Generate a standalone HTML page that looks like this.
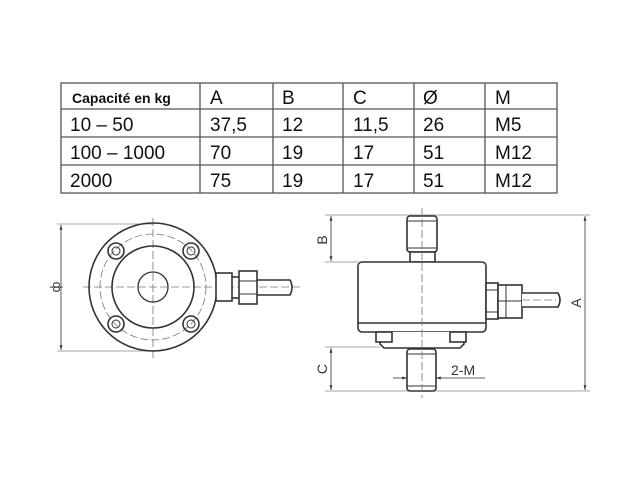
<!DOCTYPE html>
<html><head><meta charset="utf-8"><style>
html,body{margin:0;padding:0;background:#fff;width:640px;height:480px;overflow:hidden}
svg{display:block}
</style></head><body>
<svg width="640" height="480" viewBox="0 0 640 480" xmlns="http://www.w3.org/2000/svg" font-family="Liberation Sans, Arial, sans-serif">
<defs>
<marker id="ar" viewBox="0 0 10 10" refX="10" refY="5" markerWidth="6" markerHeight="6" orient="auto-start-reverse"><path d="M0,2 L10,5 L0,8 z" fill="#333"/></marker>
</defs>
<!-- table -->
<g stroke="#555" stroke-width="1.3" fill="none">
<rect x="61" y="83" width="496" height="110"/>
<line x1="61" y1="109" x2="557" y2="109"/>
<line x1="61" y1="137" x2="557" y2="137"/>
<line x1="61" y1="165" x2="557" y2="165"/>
<line x1="200" y1="83" x2="200" y2="193"/>
<line x1="273" y1="83" x2="273" y2="193"/>
<line x1="343" y1="83" x2="343" y2="193"/>
<line x1="414" y1="83" x2="414" y2="193"/>
<line x1="485" y1="83" x2="485" y2="193"/>
</g>
<g fill="#111" font-size="19">
<text x="72" y="103" font-size="14" font-weight="bold">Capacité en kg</text>
<text x="210" y="104">A</text><text x="282" y="104">B</text><text x="353" y="104">C</text><text x="423" y="104">Ø</text><text x="495" y="104">M</text>
<text x="70" y="131">10 – 50</text><text x="210" y="131">37,5</text><text x="282" y="131">12</text><text x="353" y="131">11,5</text><text x="423" y="131">26</text><text x="495" y="131">M5</text>
<text x="70" y="159">100 – 1000</text><text x="210" y="159">70</text><text x="282" y="159">19</text><text x="353" y="159">17</text><text x="423" y="159">51</text><text x="495" y="159">M12</text>
<text x="70" y="187">2000</text><text x="210" y="187">75</text><text x="282" y="187">19</text><text x="353" y="187">17</text><text x="423" y="187">51</text><text x="495" y="187">M12</text>
</g>
<!-- left view -->
<g stroke="#333" fill="none">
<line x1="57" y1="224" x2="153" y2="224" stroke="#888" stroke-width="0.8"/>
<line x1="57" y1="351" x2="153" y2="351" stroke="#888" stroke-width="0.8"/>
<line x1="61" y1="225" x2="61" y2="350" stroke-width="0.8" marker-start="url(#ar)" marker-end="url(#ar)"/>
<g stroke="#777" stroke-width="0.8" stroke-dasharray="8,3">
<line x1="153" y1="218" x2="153" y2="358"/>
<line x1="83" y1="287" x2="300" y2="287"/>
<circle cx="153" cy="287" r="53"/>
</g>
<g stroke-width="1.6">
<circle cx="153" cy="287" r="64"/>
<circle cx="153" cy="287" r="41"/>
<circle cx="153" cy="287" r="15" stroke-width="1.3"/>
<circle cx="116" cy="251" r="8"/><circle cx="116" cy="251" r="4" stroke-width="1"/>
<circle cx="191" cy="251" r="8"/><circle cx="191" cy="251" r="4" stroke-width="1"/>
<circle cx="116" cy="324" r="8"/><circle cx="116" cy="324" r="4" stroke-width="1"/>
<circle cx="191" cy="324" r="8"/><circle cx="191" cy="324" r="4" stroke-width="1"/>
<rect x="216" y="273" width="16" height="28" fill="#fff"/>
<rect x="239" y="271" width="18" height="33" fill="#fff"/>
<line x1="232" y1="277" x2="239" y2="277"/><line x1="232" y1="298" x2="239" y2="298"/>
<line x1="239" y1="281" x2="257" y2="281" stroke-width="1"/><line x1="239" y1="294" x2="257" y2="294" stroke-width="1"/>
<path d="M257,280 H290 Q294,287 290,295 H257"/>
</g>
</g>
<text x="56" y="291" font-size="13" fill="#333" transform="rotate(-90 56 287)" text-anchor="middle">ф</text>
<!-- right view -->
<g stroke="#333" fill="none">
<g stroke="#888" stroke-width="0.8">
<line x1="325" y1="215" x2="590" y2="215"/>
<line x1="325" y1="262" x2="358" y2="262"/>
<line x1="325" y1="347" x2="380" y2="347"/>
<line x1="325" y1="391" x2="590" y2="391"/>
</g>
<g stroke-width="0.8">
<line x1="331" y1="216" x2="331" y2="261" marker-start="url(#ar)" marker-end="url(#ar)"/>
<line x1="331" y1="348" x2="331" y2="390" marker-start="url(#ar)" marker-end="url(#ar)"/>
<line x1="585" y1="216" x2="585" y2="390" marker-start="url(#ar)" marker-end="url(#ar)"/>
<line x1="393" y1="378" x2="407" y2="378" marker-end="url(#ar)"/>
<line x1="485" y1="378" x2="436" y2="378" marker-end="url(#ar)"/>
</g>
<g stroke-width="1.6" fill="#fff">
<rect x="407" y="216" width="30" height="36" rx="3"/>
<line x1="407" y1="221" x2="437" y2="221" stroke-width="1"/><line x1="407" y1="248" x2="437" y2="248" stroke-width="1"/>
<rect x="410" y="252" width="25" height="10"/>
<rect x="358" y="262" width="128" height="70" rx="4"/>
<line x1="358" y1="323" x2="486" y2="323"/>
<path d="M380,332 V344 L384,348 H460 L464,344 V332"/>
<rect x="376" y="332" width="16" height="10"/>
<rect x="450" y="332" width="16" height="10"/>
<rect x="407" y="349" width="29" height="42" rx="3"/>
<line x1="407" y1="354" x2="436" y2="354" stroke-width="1"/><line x1="407" y1="386" x2="436" y2="386" stroke-width="1"/>
<rect x="486" y="283" width="12" height="36"/>
<line x1="486" y1="290" x2="498" y2="290" stroke-width="1"/><line x1="486" y1="312" x2="498" y2="312" stroke-width="1"/>
<rect x="498" y="285" width="24" height="33"/>
<line x1="506" y1="285" x2="506" y2="318" stroke-width="1"/>
<line x1="498" y1="301" x2="522" y2="301" stroke-width="1"/>
<path d="M522,293 H558 Q562,300 558,307 H522"/>
</g>
<g stroke="#777" stroke-width="0.8" stroke-dasharray="8,3">
<line x1="422" y1="208" x2="422" y2="398"/>
<line x1="522" y1="300" x2="556" y2="300"/>
</g>
</g>
<g fill="#333" font-size="14">
<text x="0" y="0" transform="translate(327,240) rotate(-90)" text-anchor="middle">B</text>
<text x="0" y="0" transform="translate(327,369) rotate(-90)" text-anchor="middle">C</text>
<text x="0" y="0" transform="translate(581,303) rotate(-90)" text-anchor="middle">A</text>
<text x="451" y="375">2-M</text>
</g>
</svg>
</body></html>
